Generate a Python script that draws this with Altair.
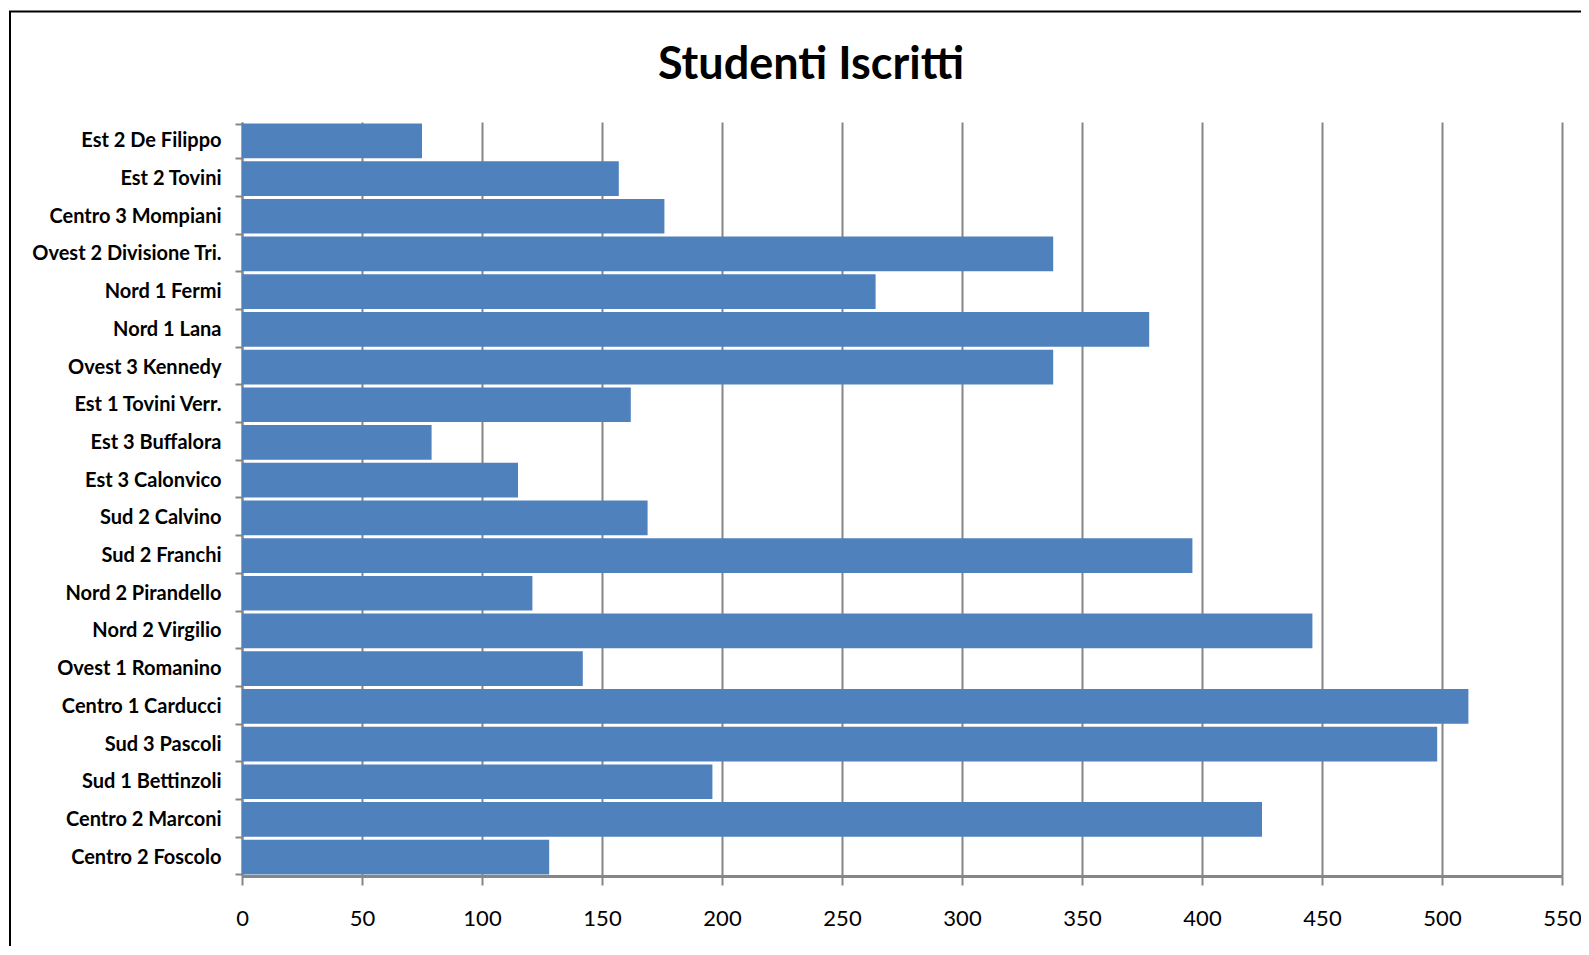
import altair as alt
import pandas as pd

# Categories (top to bottom, as shown); trailing spaces are part of the original labels
schools = [
    "Est 2 De Filippo", "Est 2 Tovini  ", "Centro 3 Mompiani ", "Ovest 2 Divisione Tri.",
    "Nord 1 Fermi ", "Nord 1 Lana ", "Ovest 3 Kennedy", "Est 1 Tovini Verr.",
    "Est 3 Buffalora ", "Est 3 Calonvico ", "Sud 2 Calvino ", "Sud 2 Franchi ",
    "Nord 2 Pirandello  ", "Nord 2 Virgilio ", "Ovest 1 Romanino", "Centro 1 Carducci ",
    "Sud 3 Pascoli", "Sud 1 Bettinzoli", "Centro 2 Marconi ", "Centro 2 Foscolo ",
]
students = [75, 157, 176, 338, 264, 378, 338, 162, 79, 115,
            169, 396, 121, 446, 142, 511, 498, 196, 425, 128]
x_ticks = [0, 50, 100, 150, 200, 250, 300, 350, 400, 450, 500, 550]
title_text = ["Studenti Iscritti"]

NBSP = "\u00a0"
def keep_trailing(s):
    core = s.rstrip(" ")
    return core + NBSP * (len(s) - len(core))

labels = [keep_trailing(s) for s in schools]
df = pd.DataFrame({"Scuola": labels, "Studenti": students})

FONT = "Lato"
GREY = "#868686"
W, H = 1320, 754

bars = alt.Chart(df).mark_bar(color="#4F81BD").encode(
    x=alt.X("Studenti:Q",
            scale=alt.Scale(domain=[0, 550], nice=False, zero=True),
            axis=alt.Axis(values=x_ticks, title=None, grid=True, gridColor=GREY,
                          gridWidth=2, domainColor=GREY, domainWidth=3,
                          tickColor=GREY, tickWidth=2, tickSize=9,
                          labelFont=FONT, labelFontSize=22, labelColor="black",
                          labelPadding=23, labelFlush=False)),
    y=alt.Y("Scuola:N", sort=labels,
            scale=alt.Scale(paddingInner=0.08, paddingOuter=0.04),
            axis=alt.Axis(title=None, grid=False, domainColor=GREY, domainWidth=2,
                          tickColor=GREY, tickWidth=2, tickSize=7, tickBand="extent",
                          labelFont=FONT, labelFontSize=20, labelFontWeight="bold",
                          labelColor="black", labelPadding=14, labelLimit=400)),
)

title = alt.Chart(pd.DataFrame({"t": title_text})).mark_text(
    font=FONT, fontSize=45, fontWeight="bold", color="black",
    align="center", baseline="alphabetic",
).encode(text="t:N", x=alt.value(569), y=alt.value(-42.6))

frame = alt.Chart(pd.DataFrame({"frame": [1]})).mark_rect(
    filled=False, stroke="black", strokeWidth=2
).encode(
    x=alt.value(-232), x2=alt.value(1500),
    y=alt.value(-110.5), y2=alt.value(1000),
)

chart = alt.layer(bars, title, frame).properties(
    width=W,
    height=H,
    background="white",
    autosize=alt.AutoSizeParams(type="none"),
    padding={"left": 234, "top": 114, "right": 19, "bottom": 70},
).configure_view(stroke="transparent", strokeWidth=0)

chart.save("out.html", embed_options={"renderer": "svg", "actions": False})
